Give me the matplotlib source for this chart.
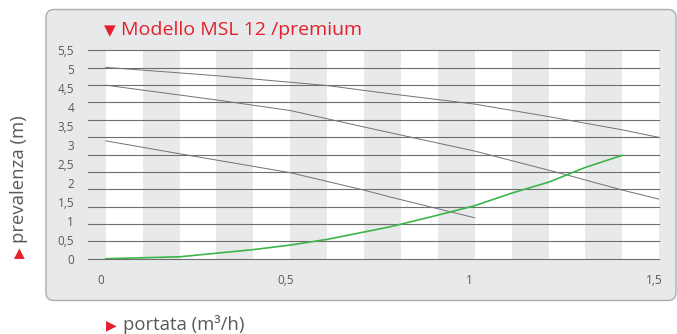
import matplotlib
matplotlib.use('Agg')
import matplotlib.pyplot as plt
from matplotlib.patches import FancyBboxPatch
from matplotlib.transforms import IdentityTransform, ScaledTranslation
import numpy as np

# curves (portata m3/h, prevalenza m)
top_x = [0.0, 0.3, 0.6, 0.74, 1.0, 1.2, 1.4, 1.5]
top_y = [5.05, 4.83, 4.57, 4.39, 4.08, 3.75, 3.40, 3.20]

mid_x = [0.0, 0.3, 0.5, 0.74, 1.0, 1.25, 1.4, 1.5]
mid_y = [4.58, 4.19, 3.91, 3.39, 2.84, 2.21, 1.81, 1.57]

low_x = [0.0, 0.2, 0.5, 0.7, 0.77, 1.0]
low_y = [3.11, 2.77, 2.27, 1.81, 1.63, 1.08]

imp_x = [0.0, 0.2, 0.4, 0.5, 0.6, 0.77, 0.9, 1.0, 1.1, 1.2, 1.3, 1.4]
imp_y = [0.0, 0.05, 0.24, 0.36, 0.51, 0.84, 1.15, 1.40, 1.73, 2.02, 2.41, 2.73]

y_ticks = [0, 0.5, 1, 1.5, 2, 2.5, 3, 3.5, 4, 4.5, 5, 5.5]
y_labels = ['0', '0,5', '1', '1,5', '2', '2,5', '3', '3,5', '4', '4,5', '5', '5,5']
x_ticks = [0, 0.5, 1, 1.5]
x_labels = ['0', '0,5', '1', '1,5']

title = 'Modello MSL 12 /premium'
xlab = 'portata (m³/h)'
ylab = 'prevalenza (m)'

panel_col = '#e8e9eb'
red = '#e3202b'
txt_col = '#5a5a5a'

plt.rcParams['font.family'] = ['Open Sans', 'DejaVu Sans']

fig = plt.figure(figsize=(6.77, 3.34), dpi=100)
fig.patch.set_facecolor('white')

# rounded grey panel behind the chart (pixel coords)
panel = FancyBboxPatch((46, 334 - 300.5), 630, 291, boxstyle='round,pad=0,rounding_size=8',
                       transform=IdentityTransform(), facecolor=panel_col,
                       edgecolor='#adadad', linewidth=1.0, zorder=-10)
fig.patches.append(panel)

ax = fig.add_axes([88 / 677, 1 - 258.7 / 334, (659.3 - 88) / 677, (258.7 - 50.3) / 334])
ax.set_facecolor('none')
ax.set_xlim(-0.048, 1.5)
ax.set_ylim(0, 5.5)

# white stripes every 0.1
for k in range(8):
    ax.axvspan(0.2 * k, 0.2 * k + 0.1, color='white', lw=0, zorder=0)

# the original drawing has 13 rules over the 12 labels
for yy in np.linspace(0, 5.5, 13):
    ax.axhline(yy, color='#6e6e6e', lw=0.8, zorder=1, clip_on=False)

ax.plot(top_x, top_y, color='#727272', lw=0.7, zorder=2)
ax.plot(mid_x, mid_y, color='#727272', lw=0.7, zorder=2)
ax.plot(low_x, low_y, color='#727272', lw=0.7, zorder=2)
ax.plot(imp_x, imp_y, color='#3db54a', lw=1.2, zorder=3)

for s in ax.spines.values():
    s.set_visible(False)
ax.set_yticks(y_ticks)
ax.set_yticklabels(y_labels)
ax.set_xticks(x_ticks)
ax.set_xticklabels(x_labels)
ax.tick_params(length=0, colors=txt_col, labelsize=8.5)
ax.tick_params(axis='y', pad=10)
ax.tick_params(axis='x', pad=11)
for lbl in ax.get_xticklabels():
    lbl.set_transform(lbl.get_transform() + ScaledTranslation(-0.05, 0, fig.dpi_scale_trans))

fig.text(104 / 677, 1 - 31 / 334, '▼', color=red, fontsize=11, va='center', ha='left',
         family=['DejaVu Sans'])
fig.text(121 / 677, 1 - 30 / 334, title, color=red, fontsize=14, va='center', ha='left')

fig.text(106 / 677, 1 - 325 / 334, '▶', color=red, fontsize=10, va='center', ha='left',
         family=['DejaVu Sans'])
fig.text(123 / 677, 1 - 324 / 334, xlab, color=txt_col, fontsize=13.3, va='center', ha='left')

fig.text(19 / 677, 1 - 253 / 334, '▶', color=red, fontsize=10, va='center', ha='center',
         rotation=90, family=['DejaVu Sans'])
fig.text(19 / 677, 1 - 243 / 334, ylab, color=txt_col, fontsize=13.3, va='bottom', ha='center',
         rotation=90)

fig.savefig('out.png', dpi=100)
